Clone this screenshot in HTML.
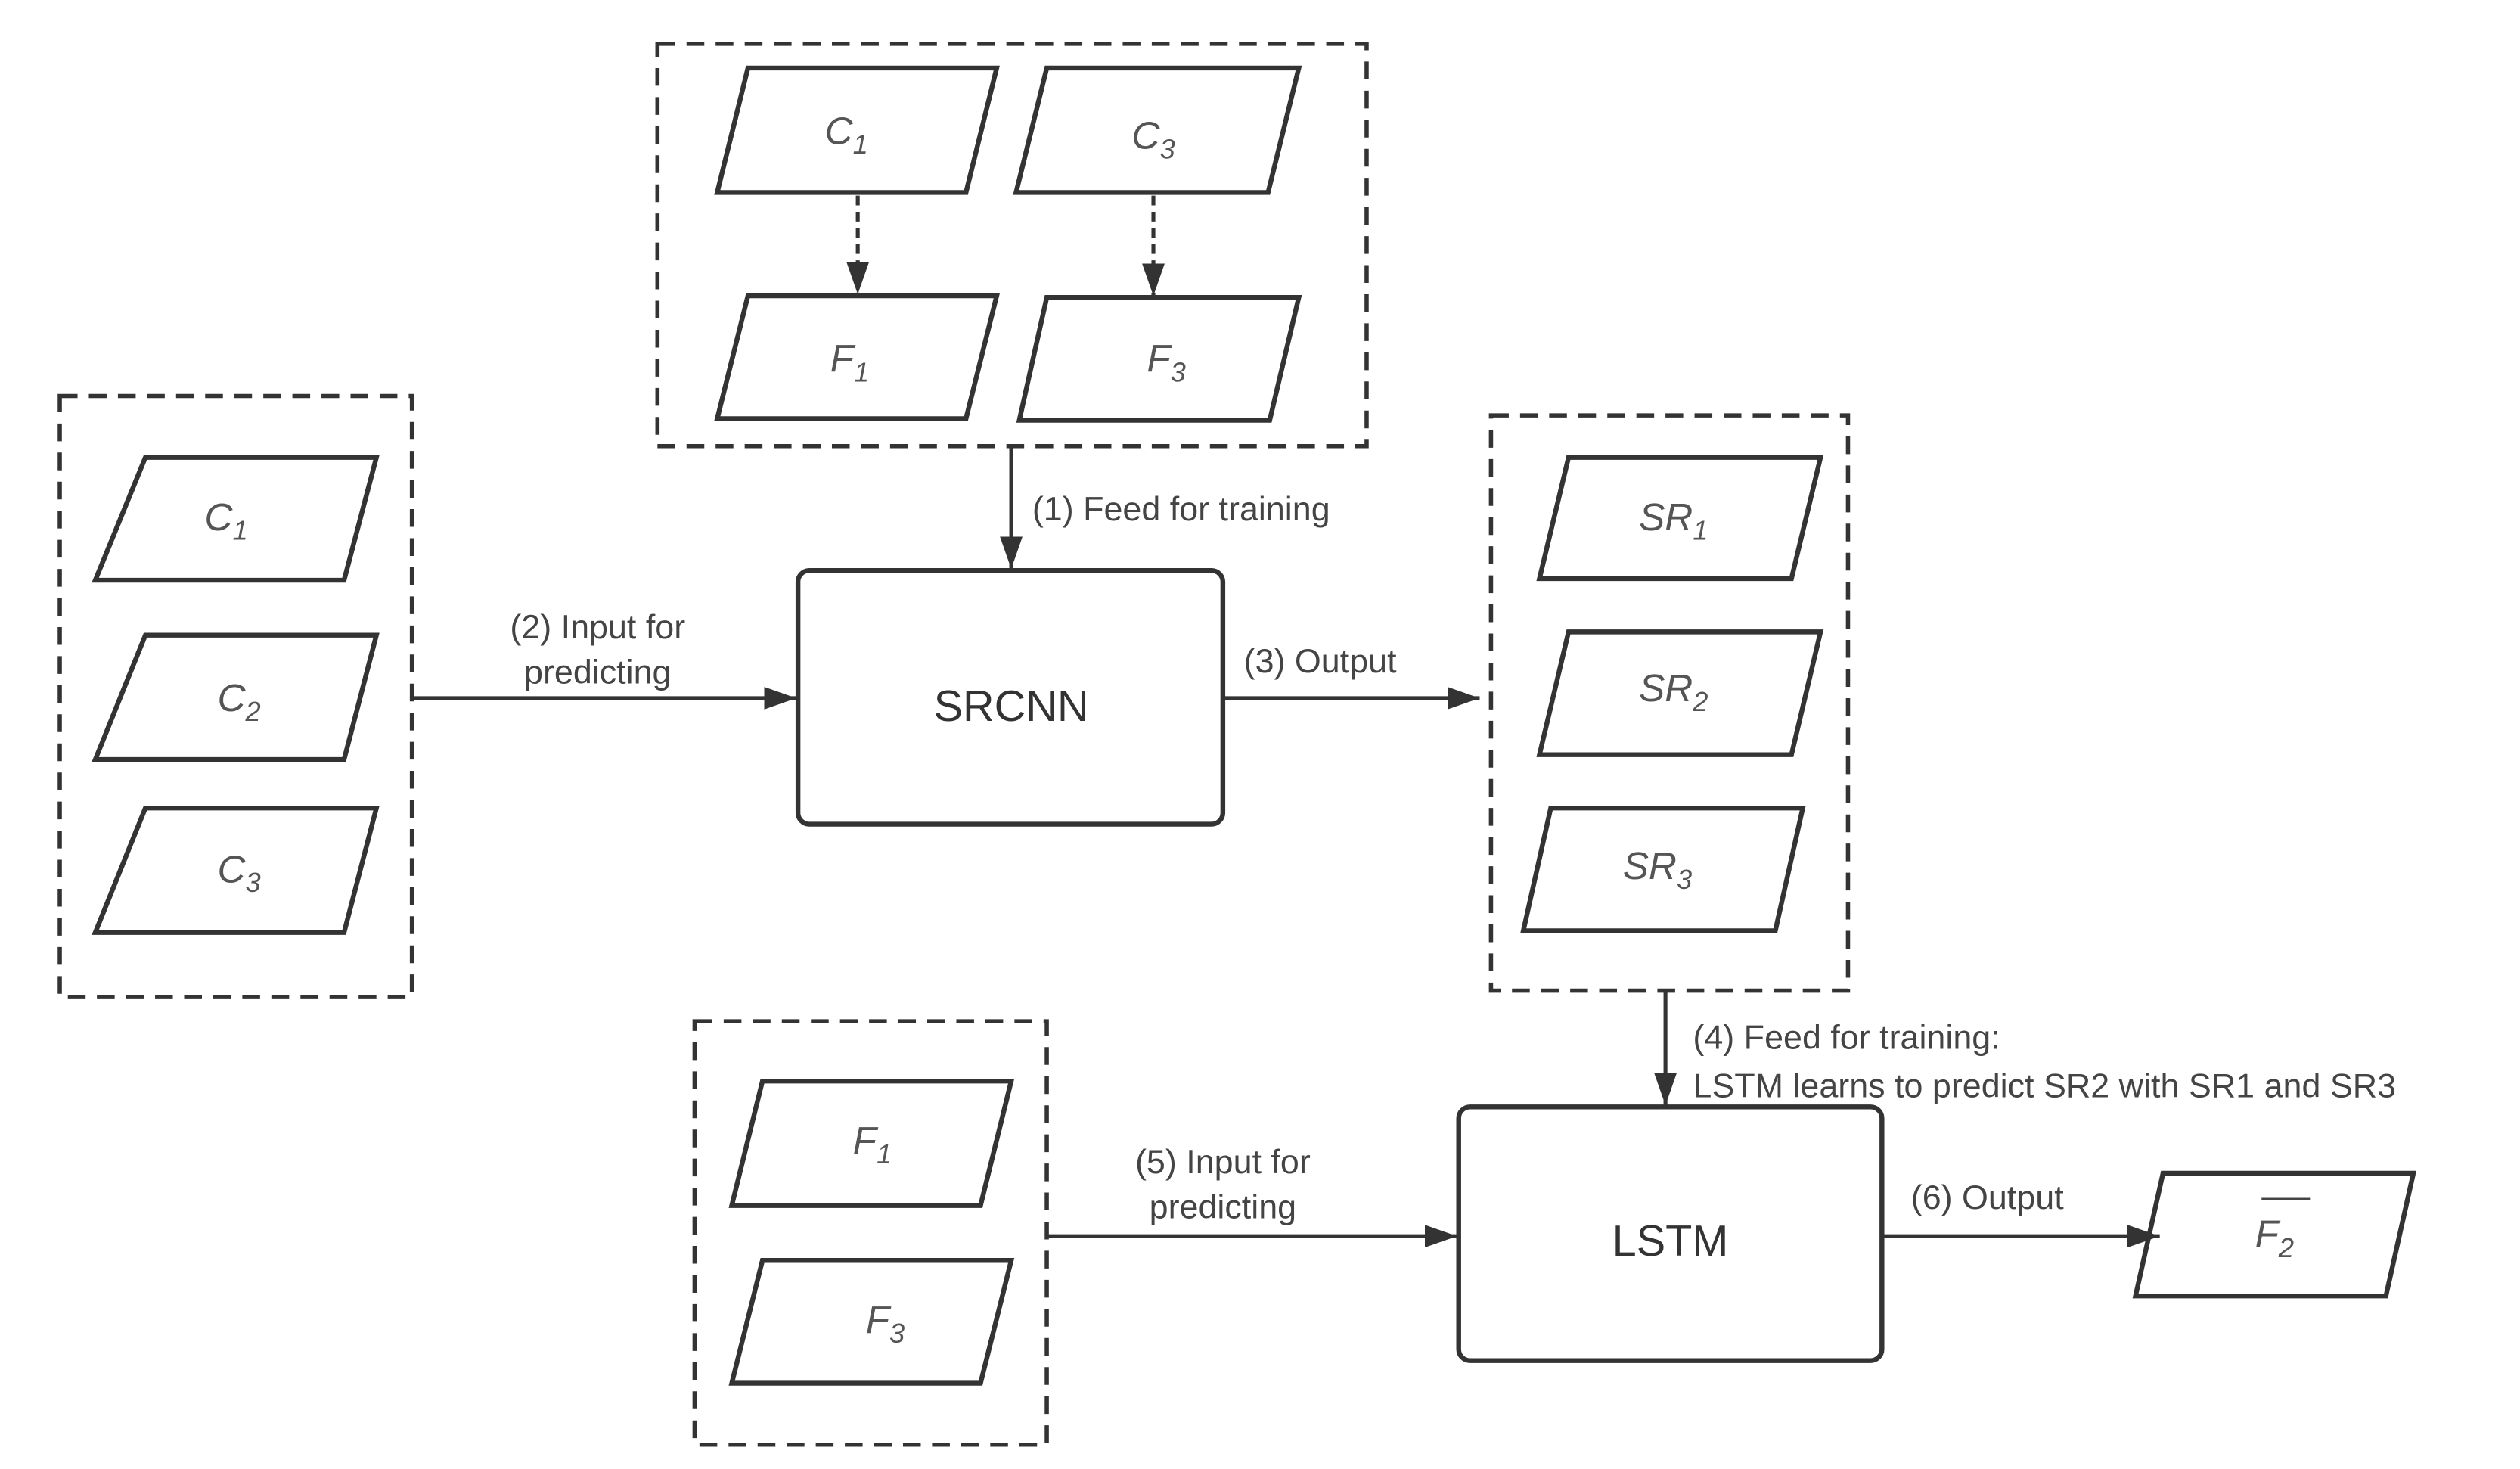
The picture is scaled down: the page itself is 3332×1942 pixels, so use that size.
<!DOCTYPE html>
<html><head><meta charset="utf-8"><style>
html,body{margin:0;padding:0;background:#fff;}
svg{display:block;}
text{font-family:"Liberation Sans",sans-serif;fill:#444;}
.lab{font-size:21px;}
.it{font-size:24px;font-style:italic;fill:#555;}
.big{font-size:27px;fill:#333;}
</style></head><body>
<svg width="3332" height="1942" viewBox="0 0 1560 909" xmlns="http://www.w3.org/2000/svg">
<defs>
<marker id="ah" markerWidth="10" markerHeight="10" refX="9" refY="5" orient="auto" markerUnits="userSpaceOnUse" viewBox="0 0 10 10">
<path d="M0,0 L10,5 L0,10 z" fill="#333"/></marker>
<marker id="a2" markerWidth="20" markerHeight="14" refX="20" refY="7" orient="auto" markerUnits="userSpaceOnUse">
<path d="M0,0 L20,7 L0,14 z" fill="#333"/></marker>
</defs>
<g fill="none" stroke="#333" stroke-width="2.6" stroke-dasharray="11,7">
<rect x="407" y="27" width="439" height="249"/>
<rect x="37" y="245" width="218" height="372"/>
<rect x="923" y="257" width="221" height="356"/>
<rect x="430" y="632" width="218" height="262"/>
</g>
<g fill="#fff" stroke="#333" stroke-width="3">
<polygon points="463,42 617,42 598,119 444,119"/>
<polygon points="648,42 804,42 785,119 629,119"/>
<polygon points="463,183 617,183 598,259 444,259"/>
<polygon points="648,184 804,184 786,260 631,260"/>
<polygon points="90,283 233,283 213,359 59,359"/>
<polygon points="90,393 233,393 213,470 59,470"/>
<polygon points="90,500 233,500 213,577 59,577"/>
<polygon points="971,283 1127,283 1109,358 953,358"/>
<polygon points="971,391 1127,391 1109,467 953,467"/>
<polygon points="960,500 1116,500 1099,576 943,576"/>
<polygon points="472,669 626,669 607,746 453,746"/>
<polygon points="472,780 626,780 607,856 453,856"/>
<polygon points="1339,726 1494,726 1477,802 1322,802"/>
<rect x="494" y="353" width="263" height="157" rx="7"/>
<rect x="903" y="685" width="262" height="157" rx="7"/>
</g>
<g stroke="#333" stroke-width="2.4" fill="none">
<line x1="531" y1="121" x2="531" y2="182" stroke-dasharray="6,4" marker-end="url(#a2)"/>
<line x1="714" y1="121" x2="714" y2="183" stroke-dasharray="6,4" marker-end="url(#a2)"/>
<line x1="626" y1="276" x2="626" y2="352" marker-end="url(#a2)"/>
<line x1="255" y1="432" x2="493" y2="432" marker-end="url(#a2)"/>
<line x1="757" y1="432" x2="916" y2="432" marker-end="url(#a2)"/>
<line x1="1031" y1="613" x2="1031" y2="684" marker-end="url(#a2)"/>
<line x1="648" y1="765" x2="902" y2="765" marker-end="url(#a2)"/>
<line x1="1165" y1="765" x2="1337" y2="765" marker-end="url(#a2)"/>
</g>
<text class="it" x="524" y="89" text-anchor="middle">C<tspan font-size="17" dy="6">1</tspan></text>
<text class="it" x="714" y="92" text-anchor="middle">C<tspan font-size="17" dy="6">3</tspan></text>
<text class="it" x="526" y="230" text-anchor="middle">F<tspan font-size="17" dy="6">1</tspan></text>
<text class="it" x="722" y="230" text-anchor="middle">F<tspan font-size="17" dy="6">3</tspan></text>
<text class="it" x="140" y="328" text-anchor="middle">C<tspan font-size="17" dy="6">1</tspan></text>
<text class="it" x="148" y="440" text-anchor="middle">C<tspan font-size="17" dy="6">2</tspan></text>
<text class="it" x="148" y="546" text-anchor="middle">C<tspan font-size="17" dy="6">3</tspan></text>
<text class="it" x="1036" y="328" text-anchor="middle">SR<tspan font-size="17" dy="6">1</tspan></text>
<text class="it" x="1036" y="434" text-anchor="middle">SR<tspan font-size="17" dy="6">2</tspan></text>
<text class="it" x="1026" y="544" text-anchor="middle">SR<tspan font-size="17" dy="6">3</tspan></text>
<text class="it" x="540" y="714" text-anchor="middle">F<tspan font-size="17" dy="6">1</tspan></text>
<text class="it" x="548" y="825" text-anchor="middle">F<tspan font-size="17" dy="6">3</tspan></text>
<text class="it" x="1408" y="772" text-anchor="middle">F<tspan font-size="17" dy="6">2</tspan></text>
<line x1="1400" y1="742" x2="1430" y2="742" stroke="#444" stroke-width="1.5"/>
<text class="big" x="626" y="446" text-anchor="middle">SRCNN</text>
<text class="big" x="1034" y="777" text-anchor="middle">LSTM</text>
<text class="lab" x="639" y="322">(1) Feed for training</text>
<text class="lab" x="370" y="395" text-anchor="middle">(2) Input for</text>
<text class="lab" x="370" y="423" text-anchor="middle">predicting</text>
<text class="lab" x="770" y="416">(3) Output</text>
<text class="lab" x="1048" y="649">(4) Feed for training:</text>
<text class="lab" x="1048" y="679">LSTM learns to predict SR2 with SR1 and SR3</text>
<text class="lab" x="757" y="726" text-anchor="middle">(5) Input for</text>
<text class="lab" x="757" y="754" text-anchor="middle">predicting</text>
<text class="lab" x="1183" y="748">(6) Output</text>
</svg>
</body></html>
